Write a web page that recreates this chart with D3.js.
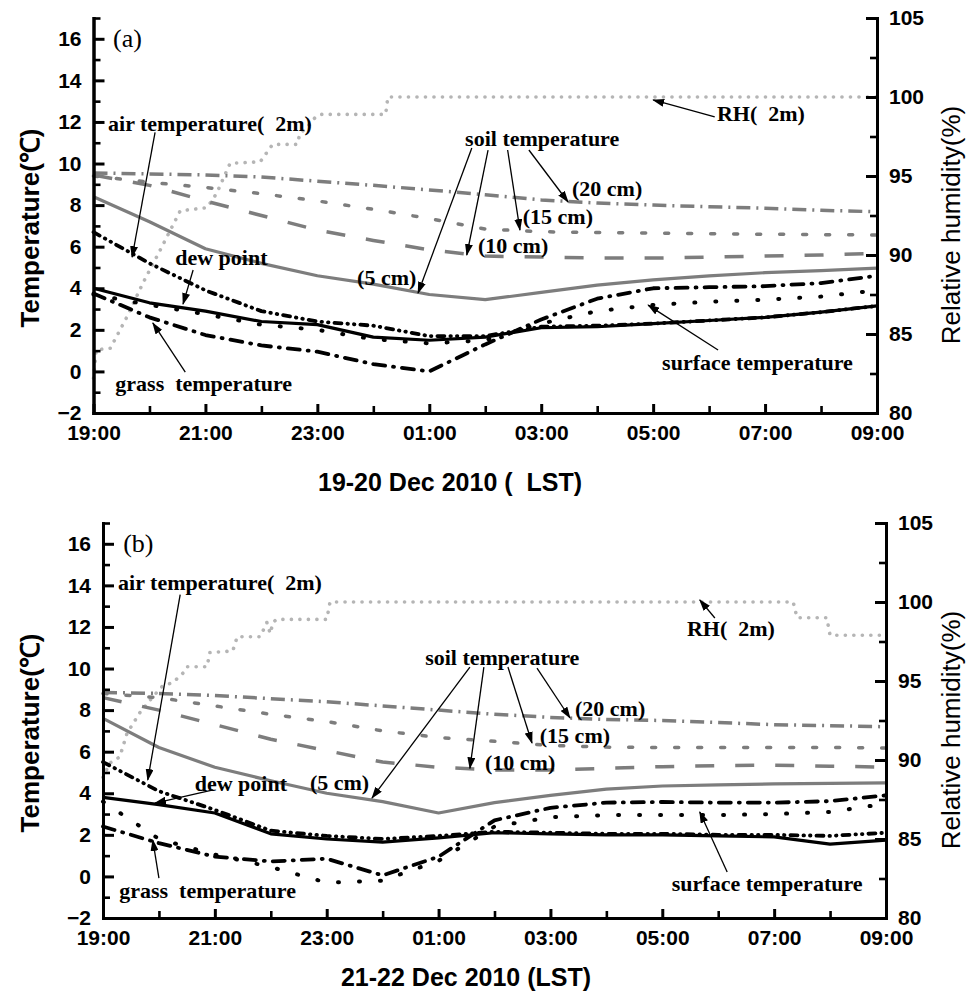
<!DOCTYPE html>
<html>
<head>
<meta charset="utf-8">
<script src="https://cdn.jsdelivr.net/npm/d3@7"></script>
<style>
  body { margin: 0; background: #fff; }
  svg { display: block; }
</style>
</head>
<body>
<svg id="chart" width="976" height="996"></svg>
<script>
// hours after 19:00 LST
const hourIdx = [0, 1, 2, 3, 4, 5, 6, 7, 8, 9, 10, 11, 12, 13, 14];
const xTickHours = [0, 2, 4, 6, 8, 10, 12, 14];
const xTickLabels = ["19:00", "21:00", "23:00", "01:00", "03:00", "05:00", "07:00", "09:00"];
const tempTicks = [-2, 0, 2, 4, 6, 8, 10, 12, 14, 16];
const rhTicks = [80, 85, 90, 95, 100, 105];

// ---- panel (a): 19-20 Dec 2010
const soil20A = [9.55, 9.5, 9.45, 9.35, 9.15, 8.95, 8.73, 8.5, 8.25, 8.1, 8.0, 7.92, 7.85, 7.75, 7.68];
const soil15A = [9.4, 9.1, 8.85, 8.55, 8.2, 7.8, 7.35, 6.85, 6.72, 6.68, 6.65, 6.62, 6.6, 6.58, 6.56];
const soil10A = [9.45, 8.95, 8.2, 7.5, 6.8, 6.3, 5.85, 5.55, 5.5, 5.45, 5.45, 5.5, 5.55, 5.6, 5.68];
const soil5A  = [8.4, 7.2, 5.9, 5.2, 4.6, 4.2, 3.7, 3.45, 3.8, 4.15, 4.4, 4.6, 4.75, 4.85, 4.97];
const airA    = [6.7, 5.2, 3.9, 2.9, 2.4, 2.2, 1.7, 1.7, 2.15, 2.2, 2.3, 2.45, 2.6, 2.85, 3.15];
const dewA    = [4.0, 3.3, 2.9, 2.4, 2.25, 1.65, 1.5, 1.65, 2.1, 2.15, 2.3, 2.45, 2.6, 2.85, 3.15];
const grassA  = [3.75, 2.6, 1.75, 1.25, 0.95, 0.35, 0.0, 1.3, 2.5, 3.5, 4.0, 4.05, 4.1, 4.25, 4.6];
const surfA   = [3.7, 3.2, 2.75, 2.25, 2.0, 1.55, 1.35, 1.5, 2.3, 2.9, 3.2, 3.35, 3.45, 3.6, 3.9];
const rhTimeA = [0, 0.05, 0.3, 0.6, 0.88, 1.19, 1.55, 2.03, 2.2, 2.44, 2.98, 3.2, 3.64, 3.69, 3.82, 3.96, 4.05, 5.22, 5.26, 14];
const rhA     = [82.2, 84, 84.1, 86.1, 88.2, 90.3, 92.8, 93, 93.9, 95.8, 95.9, 97, 97, 97.7, 98.1, 98.7, 98.9, 98.9, 100, 100];

// ---- panel (b): 21-22 Dec 2010
const soil20B = [8.85, 8.8, 8.7, 8.55, 8.4, 8.2, 8.0, 7.8, 7.65, 7.55, 7.5, 7.4, 7.3, 7.25, 7.2];
const soil15B = [8.8, 8.6, 8.2, 7.8, 7.45, 7.0, 6.68, 6.5, 6.3, 6.22, 6.2, 6.2, 6.2, 6.2, 6.18];
const soil10B = [8.6, 8.0, 7.3, 6.6, 6.05, 5.5, 5.25, 5.12, 5.12, 5.2, 5.28, 5.33, 5.35, 5.3, 5.26];
const soil5B  = [7.6, 6.2, 5.25, 4.6, 4.0, 3.6, 3.05, 3.55, 3.9, 4.2, 4.35, 4.4, 4.45, 4.48, 4.5];
const airB    = [5.5, 4.1, 3.2, 2.2, 1.95, 1.8, 1.95, 2.15, 2.1, 2.05, 2.05, 2.0, 2.0, 1.95, 2.1];
const dewB    = [3.8, 3.45, 3.05, 2.05, 1.8, 1.65, 1.85, 2.1, 2.05, 2.0, 2.0, 1.95, 1.9, 1.55, 1.75];
const grassB  = [2.4, 1.6, 0.95, 0.72, 0.85, 0.05, 0.95, 2.7, 3.3, 3.55, 3.58, 3.55, 3.55, 3.62, 3.9];
const surfB   = [3.6, 1.8, 1.05, 0.45, -0.3, -0.2, 0.75, 2.4, 2.85, 2.95, 2.95, 2.95, 3.0, 3.1, 3.5];
const rhTimeB = [0, 0.12, 0.3, 0.43, 0.66, 0.89, 1.07, 1.25, 1.43, 1.5, 1.86, 1.91, 2.32, 2.4, 2.81, 2.93, 2.99, 3.04, 3.1, 4.0, 4.06, 12.34, 12.41, 12.94, 13.0, 14];
const rhB     = [88.9, 89.8, 90.2, 91.7, 93.0, 94.0, 94.7, 94.9, 95.5, 95.9, 95.9, 96.8, 96.9, 97.8, 97.8, 98.7, 98.0, 98.7, 98.9, 98.9, 100, 100, 99.0, 99.0, 97.9, 97.9];

const GRAY = "#7d7d7d", LIGHT = "#b5b5b5";
const serif = "'Liberation Serif', 'Times New Roman', serif";
const sans = "'Liberation Sans', Arial, sans-serif";
const SP2 = "\u00a0\u00a0";

const svg = d3.select("#chart");
svg.append("defs").append("marker")
  .attr("id", "arrow")
  .attr("viewBox", "0 0 12 8")
  .attr("refX", 11).attr("refY", 4)
  .attr("markerWidth", 12).attr("markerHeight", 8)
  .attr("markerUnits", "userSpaceOnUse")
  .attr("orient", "auto")
  .append("path").attr("d", "M0,0L12,4L0,8Z").attr("fill", "#000");

function lineStyles(d) {
  return [
    { v: d.soil20, color: GRAY, w: 3.5, dash: "14,6,2,6", cap: "butt" },
    { v: d.soil15, color: GRAY, w: 3.5, dash: "4,19", cap: "round" },
    { v: d.soil10, color: GRAY, w: 3.5, dash: "19,21", cap: "butt" },
    { v: d.soil5, color: GRAY, w: 3.2, dash: null, cap: "butt" },
    { v: d.grass, color: "#000", w: 3.8, dash: "12,8,1,8", cap: "round" },
    { v: d.surf, color: "#000", w: 4, dash: "1,20", cap: "round" },
    { v: d.air, color: "#000", w: 3.8, dash: "7,6,0.5,6,0.5,6", cap: "round" },
    { v: d.dew, color: "#000", w: 3.2, dash: null, cap: "butt" }
  ];
}

function drawPanel(p) {
  const x = d3.scaleLinear().domain([0, 14]).range([p.left, p.right]);
  const yT = d3.scaleLinear().domain([-2, 17]).range([p.bottom, p.top]);
  const yRH = d3.scaleLinear().domain([80, 105]).range([p.bottom, p.top]);
  const g = svg.append("g");

  // RH (2 m)
  const rhLine = d3.line().x(d => x(d[0])).y(d => yRH(d[1]));
  g.append("path")
    .attr("d", rhLine(p.rhTime.map((t, i) => [t, p.rh[i]])))
    .attr("fill", "none").attr("stroke", LIGHT).attr("stroke-width", 3.6)
    .attr("stroke-linecap", "round").attr("stroke-dasharray", "0.1,8.4");

  const tLine = d3.line().x((d, i) => x(hourIdx[i])).y(d => yT(d));
  lineStyles(p.data).forEach(s => {
    g.append("path")
      .attr("d", tLine(s.v))
      .attr("fill", "none").attr("stroke", s.color).attr("stroke-width", s.w)
      .attr("stroke-linecap", s.cap).attr("stroke-linejoin", "round")
      .attr("stroke-dasharray", s.dash);
  });

  // axes
  const styleAxis = (sel, major) => {
    sel.select(".domain").attr("stroke-width", 3).attr("stroke-linecap", "square");
    sel.selectAll(".tick line").attr("stroke-width", major ? 3 : 2.6);
    sel.selectAll("text").attr("font-family", sans).attr("font-weight", "bold")
      .attr("font-size", 21).attr("fill", "#000");
  };
  const minorT = d3.range(-1, 18, 2);
  g.append("g").attr("transform", `translate(${p.left},0)`)
    .call(d3.axisLeft(yT).tickValues(minorT).tickSizeInner(-7).tickSizeOuter(0).tickFormat(""))
    .call(s => styleAxis(s, false));
  g.append("g").attr("transform", `translate(${p.left},0)`)
    .call(d3.axisLeft(yT).tickValues(tempTicks).tickSizeInner(-11).tickSizeOuter(0).tickPadding(12))
    .call(s => styleAxis(s, true));

  g.append("g").attr("transform", `translate(${p.right},0)`)
    .call(d3.axisRight(yRH).tickValues([82.5, 87.5, 92.5, 97.5, 102.5]).tickSizeInner(-7).tickSizeOuter(0).tickFormat(""))
    .call(s => styleAxis(s, false));
  g.append("g").attr("transform", `translate(${p.right},0)`)
    .call(d3.axisRight(yRH).tickValues(rhTicks).tickSizeInner(-11).tickSizeOuter(0).tickPadding(12))
    .call(s => styleAxis(s, true));

  g.append("g").attr("transform", `translate(0,${p.bottom})`)
    .call(d3.axisBottom(x).tickValues([1, 3, 5, 7, 9, 11, 13]).tickSizeInner(-7).tickSizeOuter(0).tickFormat(""))
    .call(s => styleAxis(s, false));
  g.append("g").attr("transform", `translate(0,${p.bottom})`)
    .call(d3.axisBottom(x).tickValues(xTickHours).tickSizeInner(-9).tickSizeOuter(0).tickPadding(12)
      .tickFormat((d, i) => xTickLabels[i]))
    .call(s => styleAxis(s, true));

  // axis titles
  g.append("text")
    .attr("transform", `translate(30,${p.yTitleY}) rotate(-90)`)
    .attr("text-anchor", "middle").attr("dy", "0.35em")
    .attr("font-family", sans).attr("font-weight", "bold").attr("font-size", 26)
    .text("Temperature(\u2103)");
  g.append("text")
    .attr("transform", `translate(951,${p.yTitleY - 3}) rotate(-90)`)
    .attr("text-anchor", "middle").attr("dy", "0.35em")
    .attr("font-family", sans).attr("font-size", 26)
    .text("Relative humidity(%)");
  g.append("text")
    .attr("x", p.xTitleX).attr("y", p.xTitleY).attr("dy", "0.35em")
    .attr("text-anchor", "middle")
    .attr("font-family", sans).attr("font-weight", "bold").attr("font-size", 25)
    .text(p.xTitle);

  // panel letter
  g.append("text")
    .attr("x", x(p.letterPos[0])).attr("y", yT(p.letterPos[1])).attr("dy", "0.35em")
    .attr("font-family", serif).attr("font-size", 26)
    .text(p.letter);

  // annotations
  p.notes.forEach(n => {
    g.append("text")
      .attr("x", x(n.h)).attr("y", yT(n.t)).attr("dy", "0.35em")
      .attr("font-family", serif).attr("font-weight", "bold").attr("font-size", 22)
      .text(n.text);
  });
  p.arrows.forEach(a => {
    g.append("line")
      .attr("x1", x(a[0])).attr("y1", yT(a[1]))
      .attr("x2", x(a[2])).attr("y2", yT(a[3]))
      .attr("stroke", "#000").attr("stroke-width", 1.3)
      .attr("marker-end", "url(#arrow)");
  });
}

drawPanel({
  left: 93.5, right: 877, top: 18, bottom: 413,
  yTitleY: 228, xTitleX: 450, xTitleY: 482, xTitle: "19-20 Dec 2010 (" + SP2 + "LST)",
  letter: "(a)", letterPos: [0.35, 16.04],
  rhTime: rhTimeA, rh: rhA,
  data: { soil20: soil20A, soil15: soil15A, soil10: soil10A, soil5: soil5A,
          air: airA, dew: dewA, grass: grassA, surf: surfA },
  notes: [
    { text: "air temperature(" + SP2 + "2m)", h: 0.26, t: 11.95 },
    { text: "dew point", h: 1.46, t: 5.5 },
    { text: "grass" + SP2 + "temperature", h: 0.39, t: -0.56 },
    { text: "soil temperature", h: 6.64, t: 11.23 },
    { text: "(20 cm)", h: 8.55, t: 8.82 },
    { text: "(15 cm)", h: 7.67, t: 7.48 },
    { text: "(10 cm)", h: 6.87, t: 6.08 },
    { text: "(5 cm)", h: 4.71, t: 4.54 },
    { text: "RH(" + SP2 + "2m)", h: 11.14, t: 12.43 },
    { text: "surface temperature", h: 10.16, t: 0.45 }
  ],
  arrows: [
    [1.1, 11.5, 0.69, 5.5],
    [1.78, 4.88, 1.6, 3.24],
    [1.64, -0.03, 1.06, 2.33],
    [6.76, 10.75, 5.8, 3.77],
    [7.05, 10.65, 6.67, 5.6],
    [7.4, 10.65, 7.62, 6.8],
    [7.78, 10.65, 8.48, 8.15],
    [11.1, 12.24, 10.0, 13.06],
    [11.16, 1.03, 9.91, 3.19]
  ]
});

drawPanel({
  left: 103, right: 886, top: 523, bottom: 918,
  yTitleY: 733, xTitleX: 466, xTitleY: 977, xTitle: "21-22 Dec 2010 (LST)",
  letter: "(b)", letterPos: [0.36, 16.06],
  rhTime: rhTimeB, rh: rhB,
  data: { soil20: soil20B, soil15: soil15B, soil10: soil10B, soil5: soil5B,
          air: airB, dew: dewB, grass: grassB, surf: surfB },
  notes: [
    { text: "air temperature(" + SP2 + "2m)", h: 0.27, t: 14.14 },
    { text: "dew point", h: 1.64, t: 4.5 },
    { text: "(5 cm)", h: 3.7, t: 4.54 },
    { text: "soil temperature", h: 5.76, t: 10.55 },
    { text: "(20 cm)", h: 8.44, t: 8.1 },
    { text: "(15 cm)", h: 7.81, t: 6.8 },
    { text: "(10 cm)", h: 6.83, t: 5.5 },
    { text: "RH(" + SP2 + "2m)", h: 10.44, t: 11.95 },
    { text: "grass" + SP2 + "temperature", h: 0.29, t: -0.65 },
    { text: "surface temperature", h: 10.17, t: -0.32 }
  ],
  arrows: [
    [1.38, 13.56, 0.8, 4.64],
    [1.97, 4.16, 0.93, 3.53],
    [6.56, 10.07, 4.81, 3.77],
    [6.81, 10.07, 6.56, 5.2],
    [7.24, 10.07, 7.67, 6.42],
    [7.76, 10.02, 8.35, 7.62],
    [10.94, 12.43, 10.67, 13.3],
    [1.0, -0.08, 0.89, 1.75],
    [11.16, 0.21, 10.67, 3.1]
  ]
});
</script>
</body>
</html>
